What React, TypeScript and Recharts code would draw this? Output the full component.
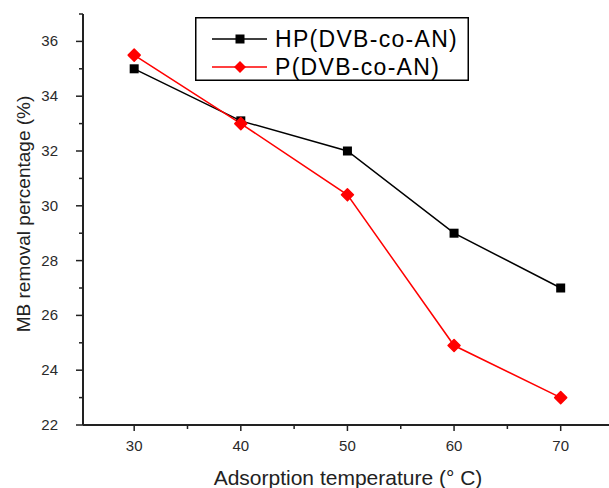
import React from 'react';
import { LineChart, Line, XAxis, YAxis, Legend, Label } from 'recharts';

const temperatures = [30, 40, 50, 60, 70];
const hpValues = [35, 33.1, 32, 29, 27];
const pValues = [35.5, 33, 30.4, 24.9, 23];
const xTicks = [30, 35, 40, 45, 50, 55, 60, 65, 70];
const yTicks = [22, 23, 24, 25, 26, 27, 28, 29, 30, 31, 32, 33, 34, 35, 36, 37];
const seriesNames = ['HP(DVB-co-AN)', 'P(DVB-co-AN)'];
const xTitle = 'Adsorption temperature (° C)';
const yTitle = 'MB removal percentage  (%)';

const data = temperatures.map((t, i) => ({ t, hp: hpValues[i], p: pValues[i] }));

const FONT = '"Liberation Sans", Arial, sans-serif';
const AXIS = '#222';

const XTick = (props: any) => {
  const { x, y, payload } = props;
  const major = payload.value % 10 === 0;
  return (
    <g>
      <line x1={x} x2={x} y1={y} y2={y + (major ? 6 : 4)} stroke={AXIS} strokeWidth={1.5} />
      {major && (
        <text x={x} y={y + 26} textAnchor="middle" fontSize={15} fontFamily={FONT} fill="#2a2a2a">
          {payload.value}
        </text>
      )}
    </g>
  );
};

const YTick = (props: any) => {
  const { x, y, payload } = props;
  const major = payload.value % 2 === 0;
  return (
    <g>
      <line x1={x - (major ? 7 : 4)} x2={x} y1={y} y2={y} stroke={AXIS} strokeWidth={1.5} />
      {major && (
        <text x={x - 25} y={y + 5} textAnchor="end" fontSize={15} fontFamily={FONT} fill="#2a2a2a">
          {payload.value}
        </text>
      )}
    </g>
  );
};

const Square = (props: any) => {
  const { cx, cy } = props;
  if (cx == null || cy == null) return null;
  return <rect x={cx - 4.5} y={cy - 4.5} width={9} height={9} fill="#000" />;
};

const Diamond = (props: any) => {
  const { cx, cy } = props;
  if (cx == null || cy == null) return null;
  const r = 6;
  return (
    <polygon
      points={`${cx},${cy - r} ${cx + r},${cy} ${cx},${cy + r} ${cx - r},${cy}`}
      fill="#ff0000"
      stroke="#ff0000"
      strokeWidth={1.5}
      strokeLinejoin="round"
    />
  );
};

const LegendBox = () => (
  <svg width={274} height={64} style={{ display: 'block' }}>
    <rect x={0.75} y={0.75} width={272.5} height={62.5} fill="#fff" stroke="#000" strokeWidth={1.5} />
    <line x1={17} x2={72} y1={22} y2={22} stroke="#000" strokeWidth={1.5} />
    <rect x={40.5} y={17.5} width={9} height={9} fill="#000" />
    <text x={80} y={30} fontSize={23} fontFamily={FONT} fill="#000" letterSpacing={1.3}>
      {seriesNames[0]}
    </text>
    <line x1={17} x2={72} y1={50} y2={50} stroke="#ff0000" strokeWidth={1.5} />
    <polygon points="45,44 51,50 45,56 39,50" fill="#ff0000" />
    <text x={80} y={58} fontSize={23} fontFamily={FONT} fill="#000" letterSpacing={1.3}>
      {seriesNames[1]}
    </text>
  </svg>
);

export default function App() {
  return (
    <div style={{ position: 'absolute', left: 0, top: 0, width: 609, height: 488, overflow: 'hidden', background: '#fff' }}>
      <LineChart width={620} height={488} data={data} margin={{ top: 14, right: 6, bottom: 0, left: 0 }}>
        <XAxis
          dataKey="t"
          type="number"
          domain={[25.2, 75]}
          ticks={xTicks}
          interval={0}
          height={63}
          tickSize={0}
          tickMargin={0}
          tickLine={false}
          tick={<XTick />}
          axisLine={{ stroke: AXIS, strokeWidth: 2 }}
          allowDataOverflow
        >
          <Label
            content={() => (
              <text x={348} y={485} textAnchor="middle" fontSize={21} fontFamily={FONT} fill="#222">
                {xTitle}
              </text>
            )}
          />
        </XAxis>
        <YAxis
          type="number"
          domain={[22, 37]}
          ticks={yTicks}
          interval={0}
          width={83}
          tickSize={0}
          tickMargin={0}
          tickLine={false}
          tick={<YTick />}
          axisLine={{ stroke: AXIS, strokeWidth: 2 }}
          allowDataOverflow
        >
          <Label
            content={() => (
              <text
                x={23}
                y={214}
                transform="rotate(-90 23 214)"
                textAnchor="middle"
                dominantBaseline="central"
                fontSize={19}
                fontFamily={FONT}
                fill="#222"
              >
                {yTitle}
              </text>
            )}
          />
        </YAxis>
        <Legend
          layout="horizontal"
          verticalAlign="middle"
          content={() => <LegendBox />}
          wrapperStyle={{ position: 'absolute', left: 195, top: 17, width: 274, height: 64 }}
        />
        <Line
          dataKey="hp"
          name={seriesNames[0]}
          stroke="#000"
          strokeWidth={1.5}
          dot={<Square />}
          activeDot={false}
          isAnimationActive={false}
        />
        <Line
          dataKey="p"
          name={seriesNames[1]}
          stroke="#ff0000"
          strokeWidth={1.5}
          dot={<Diamond />}
          activeDot={false}
          isAnimationActive={false}
        />
      </LineChart>
    </div>
  );
}
